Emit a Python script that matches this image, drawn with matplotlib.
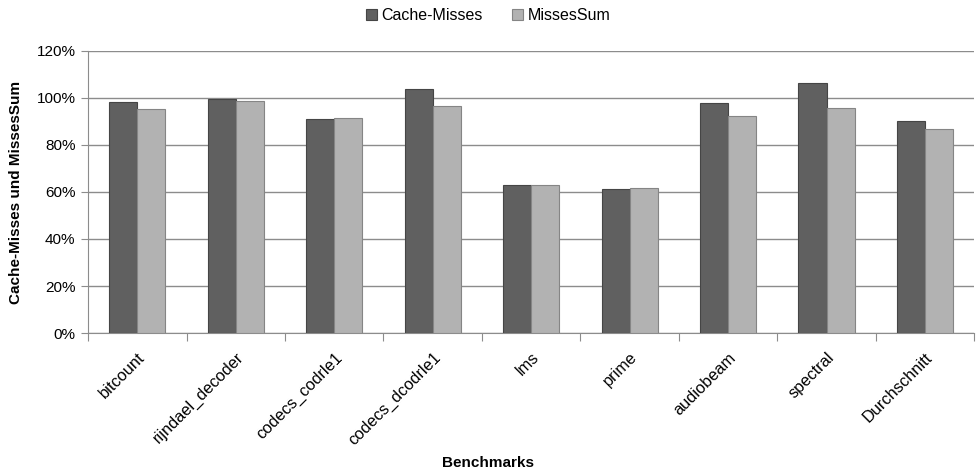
import matplotlib.pyplot as plt
import numpy as np
from matplotlib.ticker import PercentFormatter
from matplotlib.transforms import ScaledTranslation

plt.rcParams['font.family'] = ['Liberation Sans', 'DejaVu Sans']

benchmarks = ['bitcount', 'rijndael_decoder', 'codecs_codrle1', 'codecs_dcodrle1',
              'lms', 'prime', 'audiobeam', 'spectral', 'Durchschnitt']
cache_misses = [98.3, 99.4, 91.2, 103.8, 63.0, 61.4, 98.0, 106.4, 90.2]
misses_sum = [95.3, 98.7, 91.3, 96.5, 62.8, 61.6, 92.3, 95.7, 86.8]

x = np.arange(len(benchmarks))
width = 0.285

fig = plt.figure(figsize=(9.76, 4.76), dpi=100)
ax = fig.add_axes([0.0902, 0.3004, 0.908, 0.5925])

ax.bar(x - width/2, cache_misses, width, label='Cache-Misses',
       color='#606060', edgecolor='#454545', linewidth=0.8, zorder=3)
ax.bar(x + width/2, misses_sum, width, label='MissesSum',
       color='#b2b2b2', edgecolor='#858585', linewidth=0.8, zorder=3)

ax.set_xlim(-0.5, len(benchmarks) - 0.5)
ax.set_ylim(0, 120)
ax.set_yticks(np.arange(0, 121, 20))
ax.yaxis.set_major_formatter(PercentFormatter(decimals=0))
ax.grid(axis='y', color='#8c8c8c', linewidth=1, zorder=0)

# category boundaries carry the tick marks, labels sit at the centres
ax.set_xticks(np.arange(-0.5, len(benchmarks)), minor=False)
ax.set_xticklabels([])
ax.set_xticks(x, minor=True)
ax.set_xticklabels(benchmarks, minor=True, rotation=45, ha='right',
                   rotation_mode='anchor', fontsize=11.8)
shift = ScaledTranslation(4 / 100, 0, fig.dpi_scale_trans)
for lbl in ax.get_xticklabels(minor=True):
    lbl.set_transform(lbl.get_transform() + shift)
ax.tick_params(axis='x', which='major', length=6, color='#8c8c8c', direction='out')
ax.tick_params(axis='x', which='minor', length=0, pad=12)
ax.tick_params(axis='y', length=5, color='#8c8c8c', labelsize=11, pad=4)

for side in ['top', 'right']:
    ax.spines[side].set_visible(False)
for side in ['left', 'bottom']:
    ax.spines[side].set_color('#8c8c8c')

ax.set_ylabel('Cache-Misses und MissesSum', fontweight='bold', fontsize=11, labelpad=10)
fig.text(0.5, 0.027, 'Benchmarks', fontweight='bold', fontsize=11, ha='center', va='center')

fig.legend(loc='center', bbox_to_anchor=(0.5, 0.967), ncol=2, frameon=False,
           fontsize=11.5, handlelength=0.7, handleheight=0.7, handletextpad=0.3,
           columnspacing=1.8)

fig.savefig('out.png', dpi=100)
